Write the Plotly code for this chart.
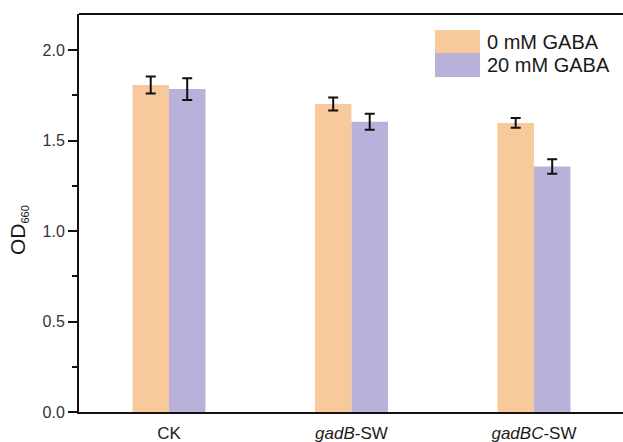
import plotly.graph_objects as go

categories = ["CK", "<i>gadB</i>-SW", "<i>gadBC</i>-SW"]
series_names = ["0 mM GABA", "20 mM GABA"]
od_0mM = [1.807, 1.702, 1.598]
err_0mM = [0.047, 0.036, 0.027]
od_20mM = [1.785, 1.604, 1.357]
err_20mM = [0.060, 0.044, 0.040]
y_ticks = [0.0, 0.5, 1.0, 1.5, 2.0]

colors = ["#F8C99B", "#BAB1DA"]
FONT = "Liberation Sans, Arial, sans-serif"
TXT = "#1a1a1a"

W, H = 623, 442
L, R, T, B = 79, 0, 14, 30
pw, ph = W - L - R, H - T - B

def px(x):
    return (x - L) / pw

def py(y):
    return (H - B - y) / ph

fig = go.Figure()
for name, vals, errs, col in [
    (series_names[0], od_0mM, err_0mM, colors[0]),
    (series_names[1], od_20mM, err_20mM, colors[1]),
]:
    fig.add_trace(go.Bar(
        x=categories, y=vals, name=name, marker=dict(color=col, line=dict(width=0)),
        error_y=dict(type="data", array=errs, color="#111111", thickness=2, width=5),
        showlegend=False, hoverinfo="skip",
    ))

shapes = []
annotations = []
# manual legend
leg = [(series_names[0], colors[0], 30, 53), (series_names[1], colors[1], 53, 77)]
for name, col, y0, y1 in leg:
    shapes.append(dict(type="rect", xref="paper", yref="paper",
                       x0=px(435), x1=px(480), y0=py(y1), y1=py(y0),
                       fillcolor=col, line=dict(width=0), layer="above"))
    annotations.append(dict(text=name, xref="paper", yref="paper",
                            x=px(485), y=py((y0 + y1) / 2), xanchor="left", yanchor="middle",
                            showarrow=False, font=dict(size=20, family=FONT, color=TXT)))
# top frame line
shapes.append(dict(type="line", xref="paper", yref="paper", x0=0, x1=1, y0=1, y1=1,
                   line=dict(color="#111111", width=2)))
# y-axis title
annotations.append(dict(text="OD<sub><span style=\"font-size:11px\">660</span></sub>",
                        xref="paper", yref="paper",
                        x=px(18), y=py(230), xanchor="center", yanchor="middle",
                        textangle=-90, showarrow=False,
                        font=dict(size=21, family=FONT, color=TXT)))

fig.update_layout(
    width=W, height=H,
    margin=dict(l=L, r=R, t=T, b=B, pad=0, autoexpand=False),
    paper_bgcolor="white", plot_bgcolor="white",
    barmode="group", bargap=0.6, bargroupgap=0,
    shapes=shapes, annotations=annotations,
    font=dict(family=FONT, color=TXT),
)
fig.update_xaxes(
    range=[-0.493, 2.488], showline=True, linecolor="#111111", linewidth=2,
    ticks="", showgrid=False, zeroline=False, automargin=False,
    ticklabelstandoff=5,
    tickfont=dict(size=17, family=FONT, color=TXT),
)
fig.update_yaxes(
    range=[0, 2.2], tickvals=y_ticks, tickformat=".1f",
    showline=True, linecolor="#111111", linewidth=2,
    ticks="outside", ticklen=9, tickwidth=2, tickcolor="#111111",
    minor=dict(dtick=0.25, ticks="outside", ticklen=5, tickwidth=2, tickcolor="#111111"),
    showgrid=False, zeroline=False, automargin=False,
    tickfont=dict(size=16, family=FONT, color="#333333"),
)

fig.write_html(
    "out.html",
    config={"displayModeBar": False},
    post_script="document.body.style.margin='0';document.body.style.overflow='hidden';",
)
